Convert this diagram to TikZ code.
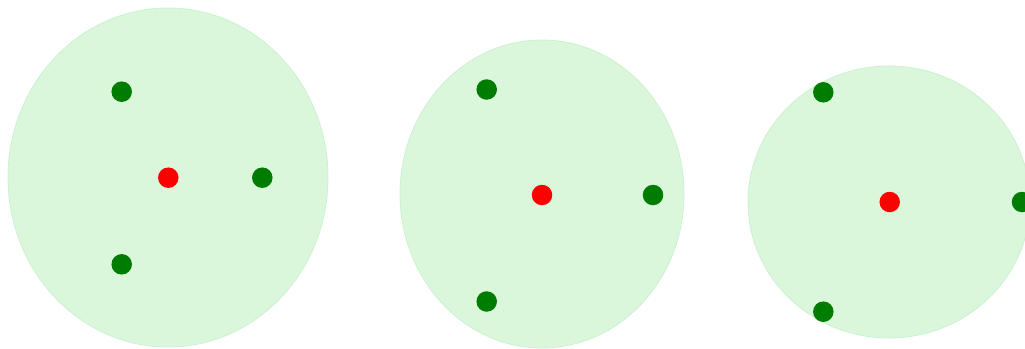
\documentclass[tikz,border=0pt]{standalone}
\usepackage{tikz}
\usetikzlibrary{shapes.geometric}

\definecolor{clusterfill}{RGB}{218,247,220}
\definecolor{clusteredge}{RGB}{205,240,208}
\definecolor{memberdot}{RGB}{0,125,0}
\definecolor{centroiddot}{RGB}{255,0,0}

\begin{document}
\begin{tikzpicture}[
    x=1pt, y=-1pt,
    cluster/.style={ellipse, draw=clusteredge, fill=clusterfill, line width=0.8pt, inner sep=0pt},
    member/.style={circle, fill=memberdot, inner sep=0pt, minimum size=20.5pt},
    centroid/.style={circle, fill=centroiddot, inner sep=0pt, minimum size=20.5pt}
]
% Canvas
\useasboundingbox (0,0) rectangle (1025,348);
\clip (0,0) rectangle (1025,348);

% Clusters
\node[cluster, minimum width=320pt, minimum height=339pt] (clusterA) at (168,177.5) {};
\node[cluster, minimum width=284pt, minimum height=308pt] (clusterB) at (542,194) {};
\node[cluster, minimum width=282pt, minimum height=272pt] (clusterC) at (889,202) {};

% Centroids
\node[centroid] (centerA) at (168.3,177.7) {};
\node[centroid] (centerB) at (542,195) {};
\node[centroid] (centerC) at (889.7,202) {};

% Members of cluster A
\node[member] (a1) at (121.7,91.7) {};
\node[member] (a2) at (262.3,177.7) {};
\node[member] (a3) at (121.7,264.3) {};

% Members of cluster B
\node[member] (b1) at (486.7,89.5) {};
\node[member] (b2) at (653,195) {};
\node[member] (b3) at (486.7,301.5) {};

% Members of cluster C
\node[member] (c1) at (823.3,92.3) {};
\node[member] (c2) at (1022,202) {};
\node[member] (c3) at (823.3,311.7) {};
\end{tikzpicture}
\end{document}
